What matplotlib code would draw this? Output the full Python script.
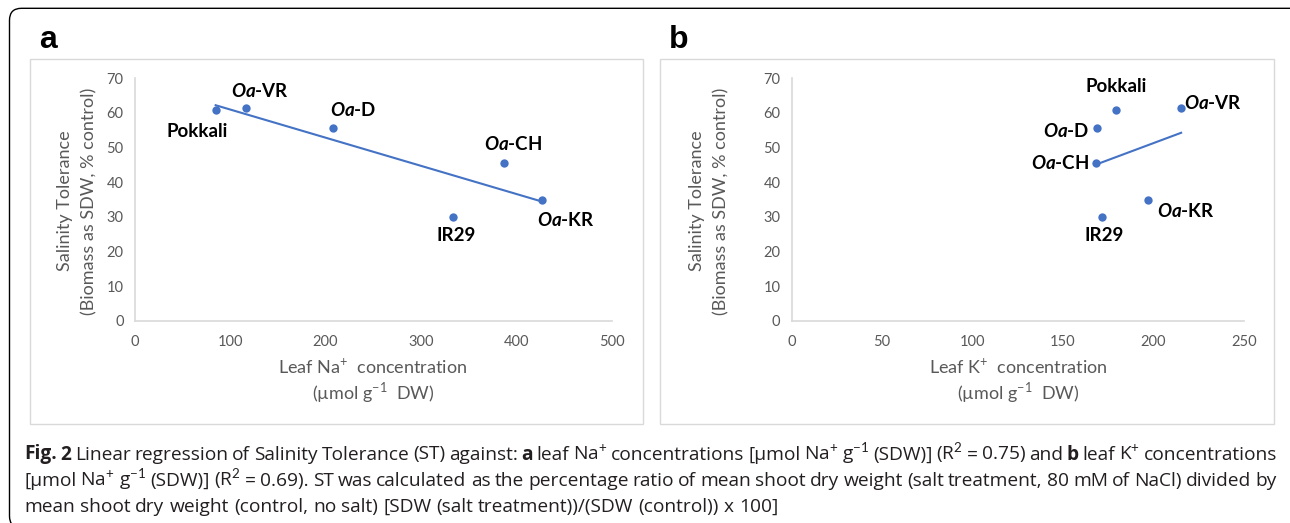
import numpy as np
import matplotlib.pyplot as plt
from matplotlib.patches import Rectangle, FancyBboxPatch
from matplotlib.transforms import IdentityTransform

W, H = 1290, 523

# data
genotypes = ['Pokkali', 'Oa-VR', 'Oa-D', 'IR29', 'Oa-CH', 'Oa-KR']
tolerance = [60.7, 61.5, 55.5, 29.9, 45.4, 35.0]   # % control
leaf_na = [84.9, 116.4, 207.6, 333.8, 387.0, 427.1]
leaf_k = [179.2, 215.3, 168.9, 171.5, 168.3, 196.8]

na_ticks = [0, 100, 200, 300, 400, 500]
k_ticks = [0, 50, 100, 150, 200, 250]
st_ticks = [0, 10, 20, 30, 40, 50, 60, 70]

# label offsets (points) for each genotype in the two panels
offs_a = {'Pokkali': (-13, -15), 'Oa-VR': (10, 12), 'Oa-D': (15, 13),
          'IR29': (2, -13), 'Oa-CH': (7, 14), 'Oa-KR': (17.5, -14.5)}
offs_b = {'Pokkali': (0, 17), 'Oa-VR': (23, 3.5), 'Oa-D': (-22, -2),
          'IR29': (2, -13), 'Oa-CH': (-26, 0), 'Oa-KR': (27.5, -8.5)}

plt.rcParams['font.family'] = ['Lato', 'DejaVu Sans']
plt.rcParams['mathtext.fontset'] = 'custom'
plt.rcParams['mathtext.rm'] = 'Lato'
plt.rcParams['mathtext.it'] = 'Lato:style=italic:weight=bold'
plt.rcParams['mathtext.bf'] = 'Lato:weight=bold'

BLUE = '#4472C4'
GREY = '#595959'
AXLINE = '#D9D9D9'

fig = plt.figure(figsize=(W / 100, H / 100), dpi=100)


def fy(y):
    return 1 - y / H


def label_text(name):
    if name.startswith('Oa-'):
        return r'$\mathit{Oa}$-' + name[3:]
    return name


def panel(x0, x1, xs, xticks, offs):
    ax = fig.add_axes([x0 / W, fy(321), (x1 - x0) / W, (321 - 78) / H])
    ax.set_xlim(xticks[0], xticks[-1])
    ax.set_ylim(0, 70)
    ax.set_xticks(xticks)
    ax.set_yticks(st_ticks)
    for s in ['top', 'right']:
        ax.spines[s].set_visible(False)
    for s in ['left', 'bottom']:
        ax.spines[s].set_color(AXLINE)
        ax.spines[s].set_linewidth(1.2)
    ax.tick_params(length=0, labelsize=10.5, labelcolor=GREY)
    ax.tick_params(axis='x', pad=10)
    ax.tick_params(axis='y', pad=8)
    ax.patch.set_alpha(0)

    xs = np.array(xs)
    ys = np.array(tolerance)
    k, b = np.polyfit(xs, ys, 1)
    xl = np.array([xs.min(), xs.max()])
    ax.plot(xl, k * xl + b, color=BLUE, lw=1.5, zorder=2)
    ax.scatter(xs, ys, s=36, color=BLUE, zorder=3, linewidths=0)
    for name, x, y in zip(genotypes, xs, ys):
        ax.annotate(label_text(name), (x, y), xytext=offs[name],
                    textcoords='offset points', ha='center', va='center',
                    fontsize=13.5, fontweight='bold', color='black')
    return ax


# outer rounded frame and the two grey chart boxes
frame = FancyBboxPatch((9.5, H - 528), 1300, 528 - 8.3,
                       boxstyle='round,pad=0,rounding_size=12',
                       transform=IdentityTransform(), fill=False,
                       edgecolor='black', lw=1.0)
fig.add_artist(frame)
for bx0, bx1 in [(29.5, 643), (660.2, 1273.7)]:
    fig.add_artist(Rectangle((bx0, H - 424.3), bx1 - bx0, 424.3 - 59.3,
                             transform=IdentityTransform(), fill=False,
                             edgecolor=AXLINE, lw=1.0))

panel(134.7, 611.5, leaf_na, na_ticks, offs_a)
panel(791.6, 1243.9, leaf_k, k_ticks, offs_b)

# panel letters
fig.text(39 / W, fy(48.5), 'a', fontsize=23, fontweight='bold',
         family='Liberation Sans', va='baseline', ha='left')
fig.text(669 / W, fy(48.5), 'b', fontsize=23, fontweight='bold',
         family='Liberation Sans', va='baseline', ha='left')

# axis titles
for yx1, yx2, xc, ion in [(65.2, 89.6, 373, 'Na'), (697, 721.4, 1018, 'K')]:
    fig.text(yx1 / W, fy(201), 'Salinity Tolerance', rotation=90,
             ha='center', va='center', fontsize=13, color=GREY)
    fig.text(yx2 / W, fy(201), '(Biomass as SDW, % control)', rotation=90,
             ha='center', va='center', fontsize=13, color=GREY)
    fig.text(xc / W, fy(367), 'Leaf ' + ion + r'$^{+}$  concentration',
             ha='center', va='center', fontsize=13, color=GREY)
    fig.text(xc / W, fy(393), r'(µmol g$^{-1}$  DW)',
             ha='center', va='center', fontsize=13, color=GREY)

# caption, justified word by word
cap_lines = [
    [('Fig. 2', True),
     ('Linear regression of Salinity Tolerance (ST) against:', False),
     ('a', True),
     ('leaf Na$^{+}$ concentrations [µmol Na$^{+}$ g$^{-1}$ (SDW)] '
      '(R$^{2}$ = 0.75) and', False),
     ('b', True),
     ('leaf K$^{+}$ concentrations', False)],
    [('[µmol Na$^{+}$ g$^{-1}$ (SDW)] (R$^{2}$ = 0.69). ST was calculated as '
      'the percentage ratio of mean shoot dry weight (salt treatment, 80 mM '
      'of NaCl) divided by', False)],
    [('mean shoot dry weight (control, no salt) [SDW (salt treatment))/'
      '(SDW (control)) x 100]', False)],
]
cap_base = [459.5, 485.7, 511.9]
cap_fs = 13.8
cap_x0, cap_x1 = 24, 1277

renderer = fig.canvas.get_renderer()
probe = fig.text(0, 0, 'x x', fontsize=cap_fs, family='Open Sans')
probe2 = fig.text(0, 0, 'xx', fontsize=cap_fs, family='Open Sans')
space_w = probe.get_window_extent(renderer).width - probe2.get_window_extent(renderer).width
probe.remove()
probe2.remove()

for i, (segs, base) in enumerate(zip(cap_lines, cap_base)):
    words = []
    for txt, bold in segs:
        for w in txt.split(' '):
            if w:
                words.append((w, bold))
    texts = []
    for w, bold in words:
        t = fig.text(0, fy(base), w, fontsize=cap_fs, family='Open Sans',
                     fontweight='bold' if bold else 'normal', color='#231F20',
                     ha='left', va='baseline')
        texts.append(t)
    widths = [t.get_window_extent(renderer).width for t in texts]
    if i < len(cap_lines) - 1:
        gap = (cap_x1 - cap_x0 - sum(widths)) / (len(words) - 1)
    else:
        gap = space_w
    x = cap_x0
    for t, w in zip(texts, widths):
        t.set_x(x / W)
        x += w + gap

fig.savefig('out.png', dpi=100)
